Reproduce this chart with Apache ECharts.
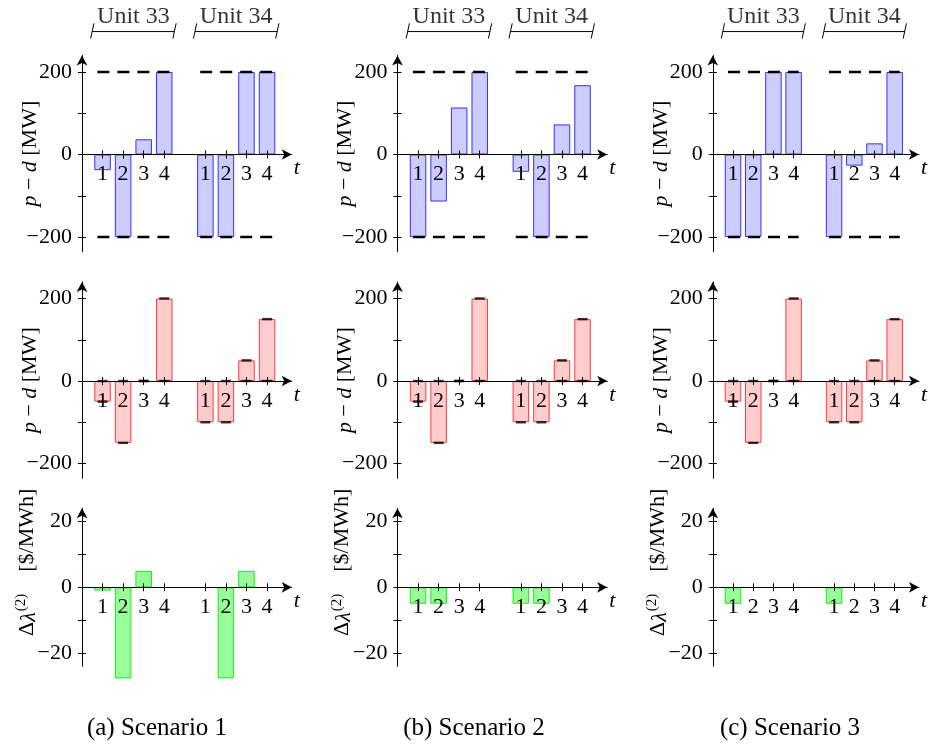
<!DOCTYPE html>
<html><head><meta charset="utf-8">
<script src="https://cdn.jsdelivr.net/npm/echarts@6/dist/echarts.min.js"></script>
<style>html,body{margin:0;padding:0;background:#fff}#c{width:928px;height:744px}</style>
</head><body><div id="c"></div>
<script>
// ---------- data ----------
const tPositions = [1, 2, 3, 4, 6, 7, 8, 9];
const tLabels = ['1', '2', '3', '4', '1', '2', '3', '4'];
const unitNames = ['Unit 33', 'Unit 34'];
const unitCenters = [2.5, 7.5];
const unitSpans = [[0.5, 4.5], [5.5, 9.5]];
const limitSpans = [[0.75, 4.25], [5.75, 9.25]];
const scenarioCaptions = ['(a) Scenario 1', '(b) Scenario 2', '(c) Scenario 3'];

// row 1: p - d (blue), with ±200 MW limits
const pdBlueS1 = [-38, -200, 37, 200, -200, -200, 200, 200];
const pdBlueS2 = [-200, -114, 114, 200, -42, -200, 73, 168];
const pdBlueS3 = [-200, -200, 200, 200, -200, -27, 27, 200];
const pdLimits = [200, -200];
// row 2: p - d (red)
const pdRedS1 = [-50, -150, 0, 200, -100, -100, 50, 150];
const pdRedS2 = [-50, -150, 0, 200, -100, -100, 50, 150];
const pdRedS3 = [-50, -150, 0, 200, -100, -100, 50, 150];
// row 3: Δλ(2) (green)
const dLamS1 = [-1, -27.7, 5, 0, 0, -27.7, 5, 0];
const dLamS2 = [-5, -5, 0, 0, -5, -5, 0, 0];
const dLamS3 = [-5, 0, 0, 0, -5, 0, 0, 0];

const yTicksMW = [-200, -100, 0, 100, 200];
const yLabelsMW = [-200, 0, 200];
const yTicksLam = [-20, -10, 0, 10, 20];
const yLabelsLam = [-20, 0, 20];

// ---------- layout / style ----------
const FONT = "'Liberation Serif', 'DejaVu Serif', serif";
const FS = 22;
const colLeft = [82, 397.5, 712.8];
const unitPx = 20.56;
const xMax = 10.2;
const gridW = xMax * unitPx;
const rows = [
  { zero: 154.5, ppu: 0.4125, min: -236, max: 240 },
  { zero: 381, ppu: 0.4125, min: -236, max: 240 },
  { zero: 587.3, ppu: 3.29, min: -24, max: 24 }
];
const rowData = [
  [pdBlueS1, pdBlueS2, pdBlueS3],
  [pdRedS1, pdRedS2, pdRedS3],
  [dLamS1, dLamS2, dLamS3]
];
const rowStyle = [
  { fill: 'rgb(204,204,255)', border: 'rgb(50,50,255)' },
  { fill: 'rgb(255,204,204)', border: 'rgb(255,60,60)' },
  { fill: 'rgb(153,255,153)', border: 'rgb(30,230,30)' }
];
const fmtNum = v => (v < 0 ? '\u2212' + Math.abs(v) : String(v));

const option = {
  animation: false,
  backgroundColor: '#fff',
  textStyle: { fontFamily: FONT, color: '#000' },
  grid: [], xAxis: [], yAxis: [], series: [], graphic: []
};

for (let r = 0; r < 3; r++) {
  const R = rows[r];
  const top = R.zero - R.max * R.ppu;
  const height = (R.max - R.min) * R.ppu;
  const zeroOffset = -(-R.min * R.ppu); // move bottom x-axis up to the zero line
  const ticks = r < 2 ? yTicksMW : yTicksLam;
  const labels = r < 2 ? yLabelsMW : yLabelsLam;
  for (let c = 0; c < 3; c++) {
    const gi = option.grid.length;
    option.grid.push({ left: colLeft[c], top: top, width: gridW, height: height });
    const yMain = option.yAxis.length;
    const yName = r < 2
      ? '{i|p} \u2212 {i|d} [MW]'
      : '\u0394{i|\u03bb}{sup|(2)}    [$/MWh]';
    option.yAxis.push({
      gridIndex: gi, type: 'value', min: R.min, max: R.max, position: 'left',
      axisLine: { show: true, onZero: false, lineStyle: { color: '#000', width: 1 },
        symbol: ['none', 'arrow'], symbolSize: [8, 10] },
      axisTick: { show: true, inside: false, length: 4, customValues: ticks, lineStyle: { color: '#000' } },
      axisLabel: { show: true, customValues: labels, formatter: fmtNum, color: '#000',
        fontFamily: FONT, fontSize: FS, margin: 10 },
      splitLine: { show: false },
      name: yName, nameLocation: 'middle', nameRotate: 90, nameMoveOverlap: false,
      nameGap: r < 2 ? 41 : 42,
      nameTextStyle: {
        fontFamily: FONT, fontSize: FS, color: '#000',
        padding: r < 2 ? [0, 0, 0, 0] : [0, 0, 0, 50],
        rich: {
          i: { fontFamily: FONT, fontSize: FS, fontStyle: 'italic', color: '#000', verticalAlign: 'bottom' },
          sup: { fontFamily: FONT, fontSize: 15, color: '#000', verticalAlign: 'bottom', padding: [0, 0, 11, 1] }
        }
      }
    });
    option.yAxis.push({
      gridIndex: gi, type: 'value', min: R.min, max: R.max, position: 'left',
      axisLine: { show: false, onZero: false },
      axisTick: { show: true, inside: true, length: 4, customValues: ticks, lineStyle: { color: '#000' } },
      axisLabel: { show: false }, splitLine: { show: false }
    });
    const xMain = option.xAxis.length;
    option.xAxis.push({
      gridIndex: gi, type: 'value', min: 0, max: xMax, position: 'bottom', z: 5, offset: zeroOffset,
      axisLine: { show: true, onZero: false, lineStyle: { color: '#000', width: 1 },
        symbol: ['none', 'arrow'], symbolSize: [8, 10] },
      axisTick: { show: true, inside: false, length: 4, customValues: tPositions, lineStyle: { color: '#000' } },
      axisLabel: { show: true, customValues: tPositions, color: '#000', fontFamily: FONT, fontSize: FS, margin: 9,
        formatter: v => tLabels[tPositions.indexOf(v)] },
      splitLine: { show: false },
      name: 't', nameLocation: 'end', nameGap: 5, nameMoveOverlap: false,
      nameTextStyle: { fontFamily: FONT, fontSize: FS, fontStyle: 'italic', color: '#000',
        align: 'center', verticalAlign: 'top', padding: [3, 0, 0, 0] }
    });
    option.xAxis.push({
      gridIndex: gi, type: 'value', min: 0, max: xMax, position: 'bottom', z: 5, offset: zeroOffset,
      axisLine: { show: false, onZero: false },
      axisTick: { show: true, inside: true, length: 4, customValues: tPositions, lineStyle: { color: '#000' } },
      axisLabel: { show: false }, splitLine: { show: false }
    });

    const vals = rowData[r][c];
    const st = rowStyle[r];
    // bars
    option.series.push({
      type: 'bar', xAxisIndex: xMain, yAxisIndex: yMain, barWidth: 16.5, clip: false, silent: true,
      itemStyle: { color: st.fill, borderColor: st.border, borderWidth: 1 },
      data: tPositions.map((x, i) => [x, vals[i]]).filter(d => d[1] !== 0),
      z: 2
    });
    if (r === 0) {
      // dashed limits
      pdLimits.forEach(lim => {
        const d = [];
        limitSpans.forEach((s, k) => {
          if (k > 0) d.push([(limitSpans[k - 1][1] + s[0]) / 2, '-']);
          d.push([s[0], lim], [s[1], lim]);
        });
        option.series.push({
          type: 'line', xAxisIndex: xMain, yAxisIndex: yMain, symbol: 'none', silent: true, z: 3,
          connectNulls: false, clip: false,
          lineStyle: { color: '#000', width: 2.4, type: [12, 8] }, data: d
        });
      });
      // unit brackets above the panel
      const lineY = 298, capLo = 281, capHi = 318, capDx = 0.08, txtY = 333;
      const bd = [], cd = [];
      unitSpans.forEach((s, k) => {
        if (k > 0) { bd.push([(unitSpans[k - 1][1] + s[0]) / 2, '-']); cd.push([s[0] - 0.3, '-']); }
        bd.push([s[0], lineY], [s[1], lineY]);
        cd.push([s[0] - capDx, capLo], [s[0] + capDx, capHi], [(s[0] + s[1]) / 2, '-'],
                [s[1] - capDx, capLo], [s[1] + capDx, capHi]);
      });
      option.series.push({
        type: 'line', xAxisIndex: xMain, yAxisIndex: yMain, symbol: 'none', silent: true, clip: false,
        connectNulls: false, lineStyle: { color: '#000', width: 1 }, data: bd
      });
      option.series.push({
        type: 'line', xAxisIndex: xMain, yAxisIndex: yMain, symbol: 'none', silent: true, clip: false,
        connectNulls: false, lineStyle: { color: '#000', width: 1 }, data: cd
      });
      option.series.push({
        type: 'scatter', xAxisIndex: xMain, yAxisIndex: yMain, symbolSize: 1, silent: true, clip: false,
        itemStyle: { color: 'rgba(0,0,0,0)' },
        label: { show: true, position: 'inside', color: '#000', fontFamily: FONT, fontSize: 24,
          formatter: p => unitNames[p.dataIndex] },
        data: unitCenters.map(x => [x, txtY])
      });
    }
    if (r === 1) {
      const md = [];
      tPositions.forEach((x, i) => { md.push([x, vals[i]]); md.push([x, 0]); });
      option.series.push({
        type: 'scatter', xAxisIndex: xMain, yAxisIndex: yMain, symbol: 'rect', symbolSize: [10, 2.4],
        silent: true, clip: false, z: 4, itemStyle: { color: '#000' }, data: md
      });
    }
  }
}

const captionCenters = [157, 474, 790];
scenarioCaptions.forEach((t, k) => {
  option.graphic.push({
    type: 'text', x: captionCenters[k], y: 728, silent: true,
    style: { text: t, fontFamily: FONT, fontSize: 25, fill: '#000', align: 'center', verticalAlign: 'middle' }
  });
});

const chart = echarts.init(document.getElementById('c'), null, { renderer: 'canvas' });
chart.setOption(option);
</script>
</body></html>
